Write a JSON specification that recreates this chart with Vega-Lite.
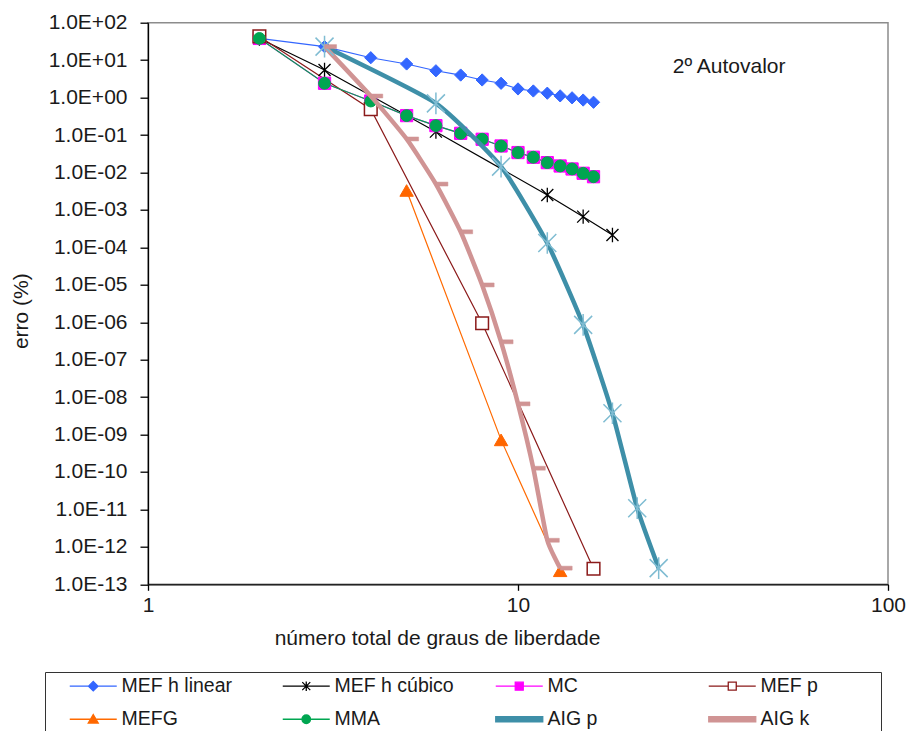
{
  "$schema": "https://vega.github.io/schema/vega-lite/v6.json",
  "width": 740,
  "height": 561.6,
  "autosize": {"type": "none"},
  "padding": {"left": 148, "top": 22.7, "right": 22, "bottom": 146.7},
  "background": "white",
  "config": {
    "font": "Liberation Sans",
    "view": {"stroke": "#8c8c8c", "strokeWidth": 1.5}
  },
  "resolve": {"scale": {"shape": "independent", "fill": "independent", "stroke": "independent", "size": "independent", "strokeWidth": "independent"}},
  "data": {
    "values": [
      {"series": "MEF h linear", "x": 2, "y": 38},
      {"series": "MEF h linear", "x": 3, "y": 22.9},
      {"series": "MEF h linear", "x": 4, "y": 11.6},
      {"series": "MEF h linear", "x": 5, "y": 7.9},
      {"series": "MEF h linear", "x": 6, "y": 5.2},
      {"series": "MEF h linear", "x": 7, "y": 4.0},
      {"series": "MEF h linear", "x": 8, "y": 2.95},
      {"series": "MEF h linear", "x": 9, "y": 2.41},
      {"series": "MEF h linear", "x": 10, "y": 1.7},
      {"series": "MEF h linear", "x": 11, "y": 1.5},
      {"series": "MEF h linear", "x": 12, "y": 1.31},
      {"series": "MEF h linear", "x": 13, "y": 1.11},
      {"series": "MEF h linear", "x": 14, "y": 0.985},
      {"series": "MEF h linear", "x": 15, "y": 0.86},
      {"series": "MEF h linear", "x": 16, "y": 0.75},
      {"series": "MEF h cúbico", "x": 2, "y": 38},
      {"series": "MEF h cúbico", "x": 3, "y": 5.46},
      {"series": "MEF h cúbico", "x": 6, "y": 0.123},
      {"series": "MEF h cúbico", "x": 12, "y": 0.0025},
      {"series": "MEF h cúbico", "x": 15, "y": 0.00066},
      {"series": "MEF h cúbico", "x": 18, "y": 0.000214},
      {"series": "MC", "x": 2, "y": 38},
      {"series": "MC", "x": 3, "y": 2.41},
      {"series": "MC", "x": 4, "y": 0.81},
      {"series": "MC", "x": 5, "y": 0.33},
      {"series": "MC", "x": 6, "y": 0.178},
      {"series": "MC", "x": 7, "y": 0.111},
      {"series": "MC", "x": 8, "y": 0.077},
      {"series": "MC", "x": 9, "y": 0.051},
      {"series": "MC", "x": 10, "y": 0.034},
      {"series": "MC", "x": 11, "y": 0.0255},
      {"series": "MC", "x": 12, "y": 0.0183},
      {"series": "MC", "x": 13, "y": 0.0149},
      {"series": "MC", "x": 14, "y": 0.0124},
      {"series": "MC", "x": 15, "y": 0.0095},
      {"series": "MC", "x": 16, "y": 0.0077},
      {"series": "MEF p", "x": 2, "y": 43},
      {"series": "MEF p", "x": 4, "y": 0.49},
      {"series": "MEF p", "x": 8, "y": 9.4e-7},
      {"series": "MEF p", "x": 16, "y": 2.6e-13},
      {"series": "MEFG", "x": 5, "y": 0.0033},
      {"series": "MEFG", "x": 9, "y": 7.2e-10},
      {"series": "MEFG", "x": 13, "y": 2.3e-13},
      {"series": "MMA", "x": 2, "y": 38},
      {"series": "MMA", "x": 3, "y": 2.41},
      {"series": "MMA", "x": 4, "y": 0.81},
      {"series": "MMA", "x": 5, "y": 0.33},
      {"series": "MMA", "x": 6, "y": 0.178},
      {"series": "MMA", "x": 7, "y": 0.111},
      {"series": "MMA", "x": 8, "y": 0.077},
      {"series": "MMA", "x": 9, "y": 0.051},
      {"series": "MMA", "x": 10, "y": 0.034},
      {"series": "MMA", "x": 11, "y": 0.0255},
      {"series": "MMA", "x": 12, "y": 0.0183},
      {"series": "MMA", "x": 13, "y": 0.0149},
      {"series": "MMA", "x": 14, "y": 0.0124},
      {"series": "MMA", "x": 15, "y": 0.0095},
      {"series": "MMA", "x": 16, "y": 0.0077},
      {"series": "AIG p", "x": 3, "y": 23},
      {"series": "AIG p", "x": 6, "y": 0.7},
      {"series": "AIG p", "x": 9, "y": 0.0143},
      {"series": "AIG p", "x": 12, "y": 0.00013},
      {"series": "AIG p", "x": 15, "y": 8.5e-7},
      {"series": "AIG p", "x": 18, "y": 3.7e-9},
      {"series": "AIG p", "x": 21, "y": 1.08e-11},
      {"series": "AIG p", "x": 24, "y": 2.7e-13},
      {"series": "AIG k", "x": 3, "y": 23},
      {"series": "AIG k", "x": 4, "y": 1.1},
      {"series": "AIG k", "x": 5, "y": 0.0785},
      {"series": "AIG k", "x": 6, "y": 0.0049},
      {"series": "AIG k", "x": 7, "y": 0.00026},
      {"series": "AIG k", "x": 8, "y": 9.9e-6},
      {"series": "AIG k", "x": 9, "y": 3.0e-7},
      {"series": "AIG k", "x": 10, "y": 6.6e-9},
      {"series": "AIG k", "x": 11, "y": 1.26e-10},
      {"series": "AIG k", "x": 12, "y": 1.5e-12},
      {"series": "AIG k", "x": 13, "y": 2.7e-13}
    ]
  },
  "encoding": {
    "x": {
      "field": "x", "type": "quantitative",
      "scale": {"type": "log", "domain": [1, 100], "nice": false},
      "axis": {
        "values": [1, 10, 100], "format": "~g", "grid": false,
        "title": "número total de graus de liberdade",
        "titleX": 289, "titleY": 54, "titleBaseline": "middle", "titleAlign": "center",
        "titleFontSize": 21, "titleFontWeight": "normal", "titleColor": "#1a1a1a",
        "labelFontSize": 21, "labelColor": "#1a1a1a", "labelPadding": 4, "labelFlush": false, "labelOverlap": false,
        "tickSize": 6, "tickColor": "#000000", "tickWidth": 1.3,
        "domainColor": "#000000", "domainWidth": 1.3
      }
    },
    "y": {
      "field": "y", "type": "quantitative",
      "scale": {"type": "log", "domain": [1e-13, 100], "nice": false},
      "axis": {
        "values": [1e-13, 1e-12, 1e-11, 1e-10, 1e-9, 1e-8, 1e-7, 1e-6, 1e-5, 1e-4, 1e-3, 1e-2, 1e-1, 1, 10, 100],
        "labelExpr": "'1.0E' + (datum.value >= 1 ? '+' : '-') + (abs(round(log(datum.value)/LN10)) < 10 ? '0' : '') + abs(round(log(datum.value)/LN10))",
        "grid": false,
        "title": "erro (%)",
        "titleX": -127, "titleY": 288, "titleBaseline": "middle", "titleAlign": "center",
        "titleFontSize": 21, "titleFontWeight": "normal", "titleColor": "#1a1a1a",
        "labelFontSize": 21, "labelColor": "#1a1a1a", "labelPadding": 13, "labelFlush": false, "labelOverlap": false,
        "tickSize": 8, "tickColor": "#000000", "tickWidth": 1.3,
        "domainColor": "#000000", "domainWidth": 1.3
      }
    }
  },
  "layer": [
    {
      "transform": [{"filter": "datum.series !== 'AIG p' && datum.series !== 'AIG k'"}],
      "mark": {"type": "line", "strokeWidth": 1.2},
      "encoding": {
        "color": {
          "field": "series", "type": "nominal", "legend": null,
          "scale": {
            "domain": ["MEF h linear", "MEF h cúbico", "MC", "MEF p", "MEFG", "MMA", "AIG p", "AIG k"],
            "range": ["#3366FF", "#000000", "#FF00FF", "#8B1A1A", "#FF6A00", "#00A651", "#3E8FA8", "#D09494"]
          }
        }
      }
    },
    {
      "transform": [{"filter": "datum.series !== 'AIG p' && datum.series !== 'AIG k'"}],
      "mark": {"type": "point", "opacity": 1},
      "encoding": {
        "shape": {
          "field": "series", "type": "nominal", "legend": null,
          "scale": {
            "domain": ["MEF h linear", "MEF h cúbico", "MC", "MEF p", "MEFG", "MMA"],
            "range": ["diamond", "M-1,-1L1,1M-1,1L1,-1M0,-1.2V1.2", "square", "square", "triangle-up", "circle"]
          }
        },
        "size": {
          "field": "series", "type": "nominal", "legend": null,
          "scale": {
            "type": "ordinal",
            "domain": ["MEF h linear", "MEF h cúbico", "MC", "MEF p", "MEFG", "MMA"],
            "range": [150, 144, 150, 160, 180, 140]
          }
        },
        "fill": {
          "field": "series", "type": "nominal", "legend": null,
          "scale": {
            "domain": ["MEF h linear", "MEF h cúbico", "MC", "MEF p", "MEFG", "MMA"],
            "range": ["#3366FF", "transparent", "#FF00FF", "#FFFFFF", "#FF6600", "#00A651"]
          }
        },
        "stroke": {
          "field": "series", "type": "nominal", "legend": null,
          "scale": {
            "domain": ["MEF h linear", "MEF h cúbico", "MC", "MEF p", "MEFG", "MMA"],
            "range": ["#3366FF", "#000000", "#FF00FF", "#8B1A1A", "#FF6600", "#00A651"]
          }
        },
        "strokeWidth": {
          "field": "series", "type": "nominal", "legend": null,
          "scale": {
            "type": "ordinal",
            "domain": ["MEF h linear", "MEF h cúbico", "MC", "MEF p", "MEFG", "MMA"],
            "range": [1, 1.3, 1, 1.5, 1, 1]
          }
        }
      }
    },
    {
      "transform": [{"filter": "datum.series === 'AIG p' || datum.series === 'AIG k'"}],
      "mark": {"type": "line", "strokeWidth": 4.5, "interpolate": "cardinal", "tension": 0.5},
      "encoding": {
        "color": {"field": "series", "type": "nominal", "legend": null}
      }
    },
    {
      "transform": [{"filter": "datum.series === 'AIG p' || datum.series === 'AIG k'"}],
      "mark": {"type": "point", "opacity": 1},
      "encoding": {
        "shape": {
          "field": "series", "type": "nominal", "legend": null,
          "scale": {"domain": ["AIG p", "AIG k"], "range": ["M-1,-1L1,1M-1,1L1,-1M0,-1.2V1.2", "M0,-0.33H2V0.33H0Z"]}
        },
        "size": {
          "field": "series", "type": "nominal", "legend": null,
          "scale": {"type": "ordinal", "domain": ["AIG p", "AIG k"], "range": [324, 144]}
        },
        "fill": {
          "field": "series", "type": "nominal", "legend": null,
          "scale": {"domain": ["AIG p", "AIG k"], "range": ["transparent", "#D09494"]}
        },
        "stroke": {
          "field": "series", "type": "nominal", "legend": null,
          "scale": {"domain": ["AIG p", "AIG k"], "range": ["#7FBCD2", "#D09494"]}
        },
        "strokeWidth": {
          "field": "series", "type": "nominal", "legend": null,
          "scale": {"type": "ordinal", "domain": ["AIG p", "AIG k"], "range": [1.5, 0.5]}
        }
      }
    },
    {
      "mark": {"type": "point", "opacity": 0, "filled": true},
      "encoding": {
        "shape": {
          "field": "series", "type": "nominal",
          "scale": {
            "domain": ["MEF h linear", "MEF h cúbico", "MC", "MEF p", "MEFG", "MMA", "AIG p", "AIG k"],
            "range": [
              "M-5,0M31.96,0M-1,0H8.4M3.7,-0.95L4.65,0L3.7,0.95L2.75,0Z",
              "M-5,0M31.96,0M-1,0H8.4M2.9,-0.8L4.5,0.8M2.9,0.8L4.5,-0.8M3.7,-0.95V0.95",
              "M-5,0M31.96,0M-1,0H8.4M2.9,-0.8H4.5V0.8H2.9Z",
              "M-5,0M31.96,0M-1,0H2.9M4.5,0H8.4M2.9,-0.8H4.5V0.8H2.9Z",
              "M-5,0M31.96,0M-1,0H8.4M3.7,-0.95L4.7,0.75H2.7Z",
              "M-5,0M31.96,0M-1,0H8.4M2.85,0A0.85,0.85,0,1,1,4.55,0A0.85,0.85,0,1,1,2.85,0Z",
              "M-5,0M31.96,0M-1,-0.5H8.4V0.5H-1Z",
              "M-5,0M31.96,0M-1,-0.5H8.4V0.5H-1Z"
            ]
          },
          "legend": {
            "orient": "none", "legendX": -103, "legendY": 649.3,
            "columns": 4, "direction": "horizontal", "title": null, "gridAlign": "all",
            "columnPadding": 19, "rowPadding": 12.5, "padding": 4,
            "symbolSize": 100, "symbolStrokeWidth": 1.3, "symbolOpacity": 1, "symbolOffset": 16,
            "labelFont": "Liberation Sans", "labelFontSize": 19.5, "labelColor": "#1a1a1a",
            "labelOffset": 37, "labelLimit": 300,
            "strokeColor": "#333333"
          }
        },
        "fill": {
          "field": "series", "type": "nominal",
          "scale": {
            "domain": ["MEF h linear", "MEF h cúbico", "MC", "MEF p", "MEFG", "MMA", "AIG p", "AIG k"],
            "range": ["#3366FF", "transparent", "#FF00FF", "#FFFFFF", "#FF6600", "#00A651", "#3E8FA8", "#D09494"]
          },
          "legend": {
            "orient": "none", "legendX": -103, "legendY": 649.3,
            "columns": 4, "direction": "horizontal", "title": null, "gridAlign": "all",
            "columnPadding": 19, "rowPadding": 12.5, "padding": 4,
            "symbolSize": 100, "symbolStrokeWidth": 1.3, "symbolOpacity": 1, "symbolOffset": 16,
            "labelFont": "Liberation Sans", "labelFontSize": 19.5, "labelColor": "#1a1a1a",
            "labelOffset": 37, "labelLimit": 300,
            "strokeColor": "#333333"
          }
        },
        "stroke": {
          "field": "series", "type": "nominal",
          "scale": {
            "domain": ["MEF h linear", "MEF h cúbico", "MC", "MEF p", "MEFG", "MMA", "AIG p", "AIG k"],
            "range": ["#3366FF", "#000000", "#FF00FF", "#8B1A1A", "#FF6A00", "#00A651", "#3E8FA8", "#D09494"]
          },
          "legend": {
            "orient": "none", "legendX": -103, "legendY": 649.3,
            "columns": 4, "direction": "horizontal", "title": null, "gridAlign": "all",
            "columnPadding": 19, "rowPadding": 12.5, "padding": 4,
            "symbolSize": 100, "symbolStrokeWidth": 1.3, "symbolOpacity": 1, "symbolOffset": 16,
            "labelFont": "Liberation Sans", "labelFontSize": 19.5, "labelColor": "#1a1a1a",
            "labelOffset": 37, "labelLimit": 300,
            "strokeColor": "#333333"
          }
        }
      }
    },
    {
      "data": {"values": [{"label": "2º Autovalor", "px": 37.2, "py": 6.5}]},
      "mark": {"type": "text", "fontSize": 21, "font": "Liberation Sans", "color": "#1a1a1a", "align": "center", "baseline": "middle"},
      "encoding": {
        "text": {"field": "label"},
        "x": {"field": "px", "type": "quantitative"},
        "y": {"field": "py", "type": "quantitative"}
      }
    }
  ]
}
